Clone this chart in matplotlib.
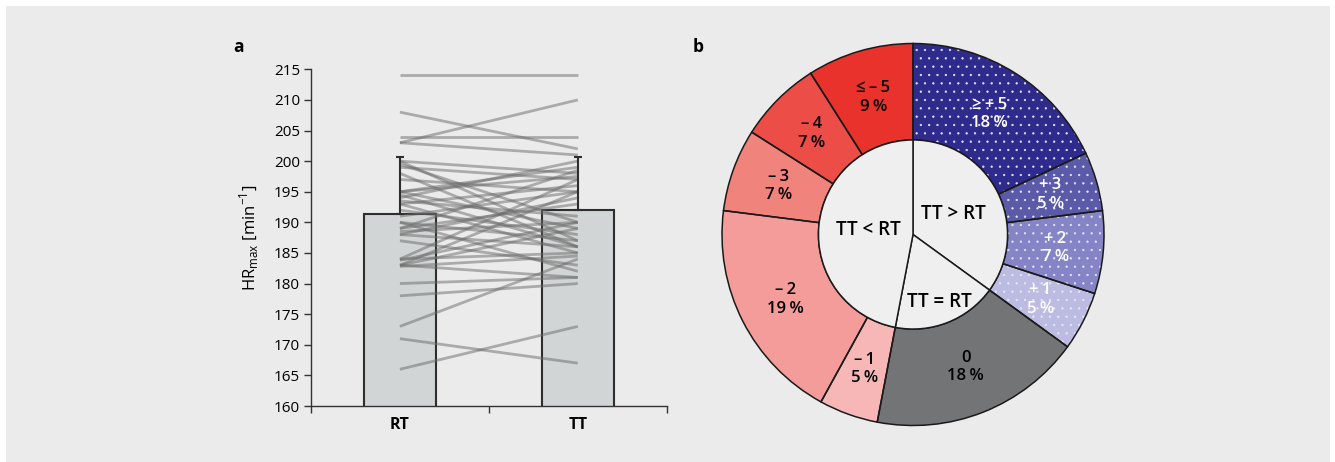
import numpy as np
import matplotlib
matplotlib.use("Agg")
import matplotlib.pyplot as plt
from matplotlib.patches import Rectangle

plt.rcParams['font.family'] = ['Open Sans', 'DejaVu Sans']
plt.rcParams['hatch.linewidth'] = 0.4

# panel a: individual HRmax values, RT vs TT
hr_rt = [214, 208, 204, 203, 203, 200, 200, 199.5, 199, 198, 197, 195, 195, 195,
         194.5, 194, 193.5, 193, 193, 192, 191, 190, 190, 189, 189, 188.5, 188,
         188, 187, 184, 184, 183.8, 183, 183, 183, 182.8, 180, 178, 173, 171, 166]
hr_tt = [214, 202, 204, 210, 201, 187, 198, 190, 197, 186, 195, 199, 189, 197.5,
         186, 200, 191, 185, 196, 188, 195, 187, 182, 193, 198.5, 190, 186,
         194, 183, 197, 185, 190, 195, 181, 189, 184.5, 181, 180, 184, 167, 173]
groups = ['RT', 'TT']
mean_hr = [191.3, 192.0]
sd_hr = [9.4, 8.7]

# panel b: distribution of TT - RT differences
diff_labels = ['≥\u2009+\u20095', '+\u20093', '+\u20092', '+\u20091', '0',
               '–\u20091', '–\u20092', '–\u20093', '–\u20094', '≤\u2009–\u20095']
diff_pct = [18, 5, 7, 5, 18, 5, 19, 7, 7, 9]
diff_colors = ['#2f2b8d', '#5b5aa9', '#8584c6', '#bcbce2', '#737475',
               '#f6b7b6', '#f39c99', '#f0837c', '#ec4d47', '#e8322b']
diff_dotted = [True, True, True, True, False, False, False, False, False, False]
diff_text = ['white'] * 4 + ['black'] * 6
group_labels = ['TT > RT', 'TT = RT', 'TT < RT']
group_pct = [35, 18, 47]
group_text_r = [0.24, 0.38, 0.235]

W, H = 1335, 462
fig = plt.figure(figsize=(W / 100, H / 100), dpi=100)
fig.patch.set_facecolor('white')
fig.patches.append(Rectangle((6 / W, 0), (1330 - 6) / W, (H - 6) / H,
                             transform=fig.transFigure, facecolor='#ebebeb',
                             edgecolor='none', zorder=-10))

# --- panel a ---
ax = fig.add_axes([311 / W, 1 - 406 / H, (666.7 - 311) / W, (406 - 69.3) / H])
ax.set_facecolor('none')
x = np.arange(len(groups))
ax.bar(x, mean_hr, width=0.405, bottom=0, color='#d2d5d5', edgecolor='#2e2e2e',
       linewidth=1.5, zorder=1)
for a, b in zip(hr_rt, hr_tt):
    ax.plot(x, [a, b], color='#6a6a6a', alpha=0.5, lw=2, solid_capstyle='butt', zorder=2)
ax.errorbar(x, mean_hr, yerr=[[0, 0], sd_hr], fmt='none', ecolor='#2e2e2e',
            elinewidth=1.5, capsize=3, capthick=1.5, zorder=3)
ax.set_xlim(-0.5, 1.5)
ax.set_ylim(160, 215)
ax.set_yticks(np.arange(160, 216, 5))
ax.set_xticks([-0.5, 0.5, 1.5])
ax.set_xticklabels([])
ax.set_xticks(x, minor=True)
ax.set_xticklabels(groups, minor=True)
for lbl in ax.get_xticklabels(minor=True):
    lbl.set_fontsize(11.5)
    lbl.set_fontweight('bold')
ax.tick_params(axis='x', which='minor', length=0, pad=8)
ax.tick_params(axis='x', which='major', length=5, width=1, color='#333333', direction='out')
ax.tick_params(axis='y', length=5, width=1, color='#333333', labelsize=11, pad=3)
for s in ['top', 'right']:
    ax.spines[s].set_visible(False)
for s in ['left', 'bottom']:
    ax.spines[s].set_color('#333333')
    ax.spines[s].set_linewidth(1)
ax.set_ylabel('HR$_\\mathregular{max}$ [min$^\\mathregular{-1}$]', fontsize=12,
              fontweight='medium', labelpad=9)
fig.text(233 / W, 1 - 47 / H, 'a', fontsize=12.5, fontweight='bold', va='center')
fig.text(693 / W, 1 - 47 / H, 'b', fontsize=12.5, fontweight='bold', va='center')

# --- panel b ---
cx, cy, R = 913, 234.5, 191
half = 205
pax = fig.add_axes([(cx - half) / W, 1 - (cy + half) / H, 2 * half / W, 2 * half / H])
inner = 0.495
wed, _ = pax.pie(diff_pct, colors=diff_colors, startangle=90, counterclock=False,
                 radius=1, wedgeprops=dict(width=1 - inner, linewidth=0, edgecolor='#e8e8f4'))
for w, dotted in zip(wed, diff_dotted):
    if dotted:
        w.set_hatch('..')
pax.pie(diff_pct, colors=['none'] * len(diff_pct), startangle=90, counterclock=False,
        radius=1, wedgeprops=dict(width=1 - inner, linewidth=1.1, edgecolor='#1a1a1a', fill=False))
pax.pie(group_pct, colors=['#efefef'] * 3, startangle=90, counterclock=False,
        radius=inner, wedgeprops=dict(linewidth=1.1, edgecolor='#1a1a1a'))
lim = half / R
pax.set_xlim(-lim, lim)
pax.set_ylim(-lim, lim)
pax.set_aspect('equal')
pax.axis('off')

start = 90.0
rmid = (1 + inner) / 2
for lab, p, tc in zip(diff_labels, diff_pct, diff_text):
    mid = np.deg2rad(start - p * 3.6 / 2)
    pax.text(rmid * np.cos(mid), rmid * np.sin(mid), f'{lab}\n{p}\u2009%', color=tc,
             ha='center', va='center', fontsize=12, linespacing=1.2, fontweight='semibold')
    start -= p * 3.6

start = 90.0
for lab, p, r in zip(group_labels, group_pct, group_text_r):
    mid = np.deg2rad(start - p * 3.6 / 2)
    pax.text(r * np.cos(mid), r * np.sin(mid), lab,
             ha='center', va='center', fontsize=13.5, fontweight='semibold')
    start -= p * 3.6

fig.savefig('out.png', dpi=100)
